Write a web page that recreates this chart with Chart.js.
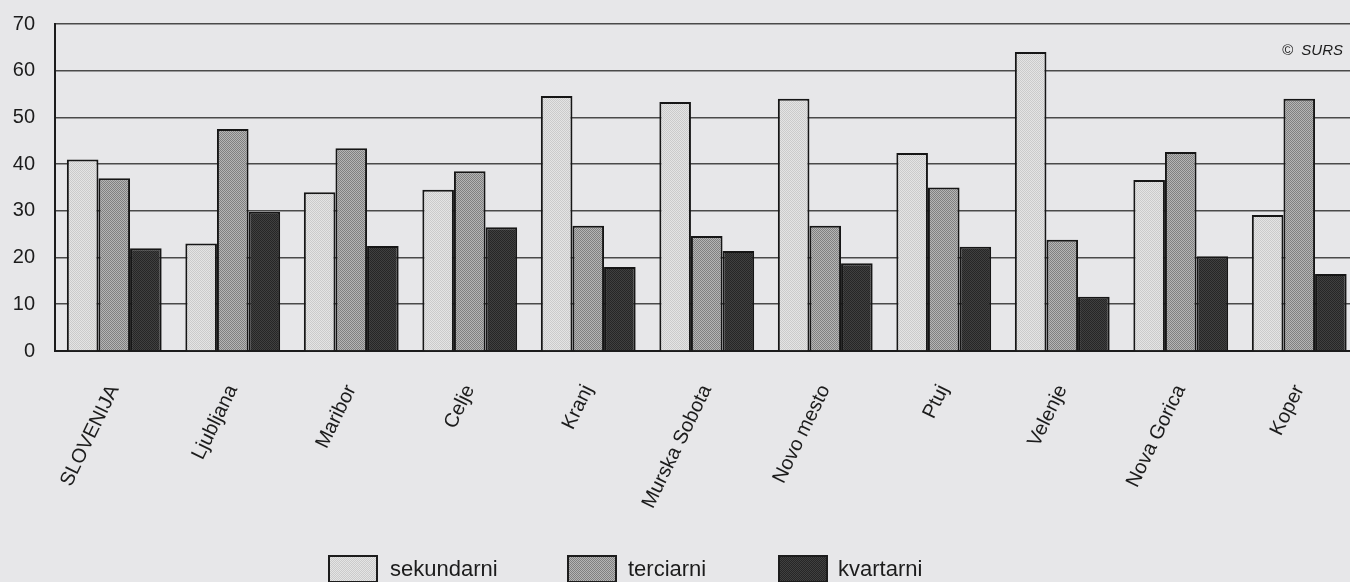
<!DOCTYPE html>
<html>
<head>
<meta charset="utf-8">
<script src="https://cdn.jsdelivr.net/npm/chart.js@4.4.0/dist/chart.umd.min.js"></script>
<style>
    html, body { margin: 0; padding: 0; background: #e7e7e9; overflow: hidden; }
    #wrap { position: relative; width: 1350px; height: 582px; overflow: hidden; }
    #chart { position: absolute; left: 0; top: 0; }
    .lg-box { position: absolute; top: 555px; width: 46px; height: 24px; border: 2px solid #1c1c1c; }
    .lg-text { position: absolute; top: 556px; line-height: 26px; font-size: 22px; color: #1c1c1c;
               font-family: "Liberation Sans", Arial, Helvetica, sans-serif; }
</style>
</head>
<body>
<div id="wrap">
    <canvas id="chart" width="1360" height="582"></canvas>
</div>
<script>
// data
const regions = ['SLOVENIJA', 'Ljubljana', 'Maribor', 'Celje', 'Kranj', 'Murska Sobota',
                 'Novo mesto', 'Ptuj', 'Velenje', 'Nova Gorica', 'Koper'];
const sekundarni = [41, 23, 34, 34.5, 54.6, 53.3, 54, 42.4, 64, 36.6, 29.1];
const terciarni = [37, 47.5, 43.4, 38.5, 26.8, 24.6, 26.8, 35, 23.8, 42.6, 54];
const kvartarni = [22, 29.8, 22.5, 26.5, 18, 21.4, 18.8, 22.3, 11.6, 20.3, 16.5];
const seriesNames = ['sekundarni', 'terciarni', 'kvartarni'];
const yTicks = [0, 10, 20, 30, 40, 50, 60, 70];

// legend item left edges (box, text)
const legendBoxLeft = [328, 567, 778];
const legendTextLeft = [390, 628, 838];

// dotted screen-print look
function makePattern(c1, c2) {
    const p = document.createElement('canvas');
    p.width = 2; p.height = 2;
    const g = p.getContext('2d');
    g.fillStyle = c1; g.fillRect(0, 0, 2, 2);
    g.fillStyle = c2; g.fillRect(0, 0, 1, 1); g.fillRect(1, 1, 1, 1);
    return p;
}
const tiles = [
    makePattern('#e4e4e4', '#cbcbcb'),
    makePattern('#b5b5b5', '#808080'),
    makePattern('#404040', '#262626')
];
const ctx = document.getElementById('chart').getContext('2d');
const fills = tiles.map(t => ctx.createPattern(t, 'repeat'));

// html legend
const wrap = document.getElementById('wrap');
seriesNames.forEach((name, i) => {
    const box = document.createElement('div');
    box.className = 'lg-box';
    box.style.left = legendBoxLeft[i] + 'px';
    box.style.background = 'url(' + tiles[i].toDataURL() + ')';
    wrap.appendChild(box);
    const txt = document.createElement('div');
    txt.className = 'lg-text';
    txt.style.left = legendTextLeft[i] + 'px';
    txt.innerText = name;
    wrap.appendChild(txt);
});

const copyright = {
    id: 'copyright',
    afterDraw(chart) {
        const c = chart.ctx;
        c.save();
        c.font = 'italic 15px "Liberation Sans", Arial, sans-serif';
        c.fillStyle = '#1c1c1c';
        c.textAlign = 'right';
        c.fillText('\u00a9  SURS', 1343, 55);
        c.restore();
    }
};

const seriesData = [sekundarni, terciarni, kvartarni];

new Chart(ctx, {
    type: 'bar',
    data: {
        labels: regions,
        datasets: seriesNames.map((name, i) => ({
            label: name,
            data: seriesData[i],
            backgroundColor: fills[i],
            borderColor: '#161616',
            borderWidth: 2,
            borderSkipped: 'bottom',
            categoryPercentage: 0.8,
            barPercentage: 1.0
        }))
    },
    options: {
        responsive: false,
        animation: false,
        layout: { padding: { top: 24, right: 1.5, left: 0, bottom: 0 } },
        plugins: {
            legend: { display: false },
            tooltip: { enabled: false }
        },
        scales: {
            y: {
                min: 0,
                max: 70,
                afterFit: scale => {
                    scale.width = 55;
                    scale.paddingTop = 0;   // tick padding otherwise pushes the top down
                },
                afterBuildTicks: scale => { scale.ticks = yTicks.map(v => ({ value: v })); },
                grid: { color: '#4a4a4a', lineWidth: 1.6, drawTicks: false },
                border: { display: true, color: '#1c1c1c', width: 2 },
                ticks: {
                    color: '#1c1c1c',
                    padding: 20,
                    font: { family: '"Liberation Sans", Arial, sans-serif', size: 20 }
                }
            },
            x: {
                afterFit: scale => { scale.height = 231; },
                grid: { display: false, drawTicks: false },
                border: { display: true, color: '#1c1c1c', width: 2 },
                ticks: {
                    color: '#1c1c1c',
                    autoSkip: false,
                    minRotation: 64,
                    maxRotation: 64,
                    padding: 30,
                    font: { family: '"Liberation Sans", Arial, sans-serif', size: 20 }
                }
            }
        }
    },
    plugins: [copyright]
});
</script>
</body>
</html>
